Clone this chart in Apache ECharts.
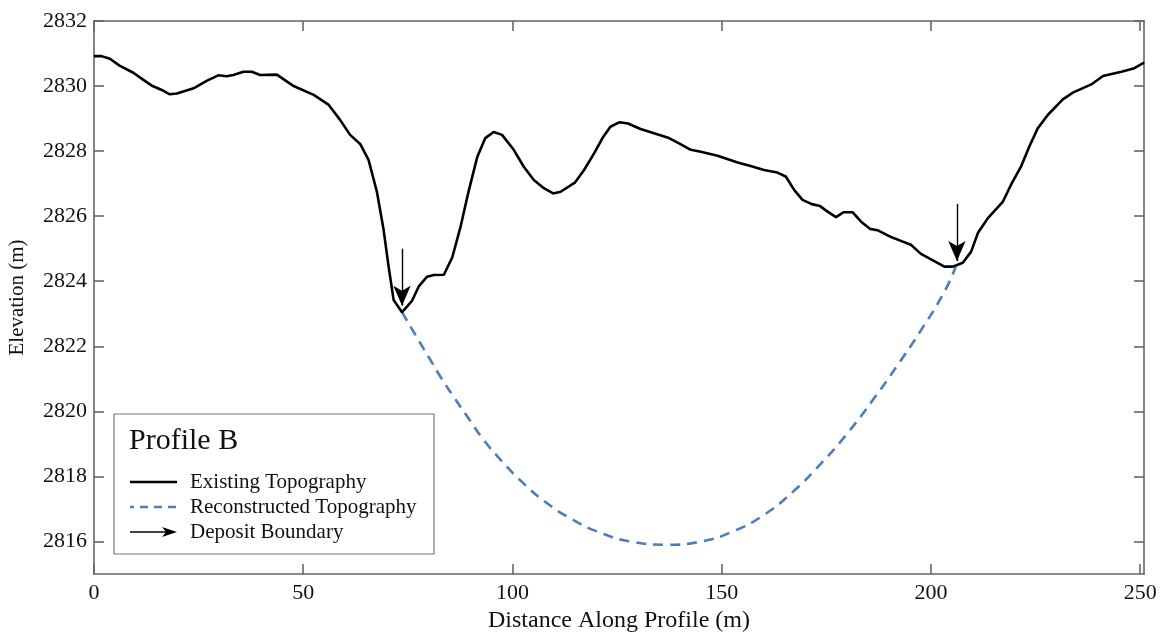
<!DOCTYPE html>
<html>
<head>
<meta charset="utf-8">
<script src="https://cdn.jsdelivr.net/npm/echarts@6/dist/echarts.min.js"></script>
<style>html,body{margin:0;padding:0;background:#fff}#c{width:1162px;height:635px}</style>
</head>
<body>
<div id="c"></div>
<script>
// ---- data ----
const topoX = [0,1.8,3.8,6.1,9.4,11.8,14.0,16.2,18.0,19.8,23.8,26.9,29.7,31.7,33.3,35.7,37.7,39.7,43.7,47.7,52.5,56.1,58.8,61.2,63.6,65.6,67.6,69.2,70.4,71.6,73.6,74.8,76.0,77.6,79.6,81.2,83.6,85.6,87.6,89.6,91.6,93.5,95.5,97.5,100.3,102.7,105.1,107.5,109.7,111.5,114.9,117.1,119.5,121.5,123.4,125.6,127.6,130.6,133.8,137.4,139.8,142.6,145.0,149.0,153.8,156.9,160.1,163.3,165.3,167.3,169.3,171.5,173.5,175.3,177.3,179.1,181.3,183.3,185.4,187.2,190.6,192.8,195.2,197.6,200.8,203.2,205.2,207.6,209.6,211.2,213.6,217.2,219.1,221.5,223.5,225.5,227.9,231.5,233.9,238.3,241.1,245.5,248.6,250.9];
const topoY = [2830.92,2830.92,2830.84,2830.63,2830.41,2830.19,2830.00,2829.88,2829.75,2829.77,2829.93,2830.16,2830.33,2830.30,2830.34,2830.44,2830.44,2830.34,2830.35,2830.00,2829.73,2829.42,2828.96,2828.50,2828.22,2827.73,2826.75,2825.58,2824.45,2823.42,2823.05,2823.22,2823.40,2823.84,2824.14,2824.19,2824.20,2824.73,2825.68,2826.81,2827.83,2828.40,2828.59,2828.50,2828.04,2827.52,2827.11,2826.86,2826.70,2826.75,2827.03,2827.42,2827.93,2828.40,2828.75,2828.89,2828.85,2828.68,2828.55,2828.40,2828.24,2828.04,2827.98,2827.86,2827.65,2827.54,2827.42,2827.34,2827.22,2826.81,2826.50,2826.37,2826.31,2826.14,2825.97,2826.12,2826.12,2825.83,2825.61,2825.57,2825.35,2825.24,2825.12,2824.84,2824.62,2824.45,2824.45,2824.57,2824.91,2825.48,2825.94,2826.45,2826.96,2827.52,2828.14,2828.70,2829.11,2829.59,2829.80,2830.05,2830.31,2830.44,2830.55,2830.72];
const reconX = [73.6,77.5,80.3,82.9,86.1,89.4,93.0,97.6,102.2,107.7,114.1,121.4,128.7,136.9,145.2,152.5,159.9,167.2,173.6,180.0,186.4,191.9,197.4,203.3,206.0];
const reconY = [2823.05,2822.20,2821.60,2821.04,2820.42,2819.80,2819.14,2818.45,2817.84,2817.23,2816.69,2816.25,2815.99,2815.90,2816.00,2816.30,2816.80,2817.55,2818.38,2819.32,2820.40,2821.40,2822.45,2823.70,2824.48];
const arrowX = [73.6, 206.2];
const arrowTopY = [2825.0, 2826.38];
const arrowTipY = [2823.25, 2824.62];
const xTicks = [0,50,100,150,200,250];
const yTicks = [2816,2818,2820,2822,2824,2826,2828,2830,2832];
const xRange = [0, 250.9];
const yRange = [2815, 2832];
const legendTitle = 'Profile B';
const legendNames = ['Existing Topography','Reconstructed Topography','Deposit Boundary'];
const xName = 'Distance Along Profile (m)';
const yName = 'Elevation (m)';

// ---- chart ----
const FONT = 'Liberation Serif';
const AX = '#666666';
const BLUE = '#4f7db6';
const zip = (a,b)=>a.map((v,i)=>[v,b[i]]);

const chart = echarts.init(document.getElementById('c'), null, {renderer:'canvas'});

const axisCommon = {
  type:'value',
  axisLine:{show:true, onZero:false, lineStyle:{color:AX, width:1.6}},
  splitLine:{show:false},
};
const plain = v => String(v);

const gL=94, gR=1144, gT=21, gB=574;
const lg = {x:114, y:414, w:320, h:140};

chart.setOption({
  animation:false,
  backgroundColor:'#fff',
  grid:{left:gL, right:1162-gR, top:gT, bottom:635-gB, containLabel:false, outerBoundsMode:'none'},
  xAxis:[
    Object.assign({}, axisCommon, {
      position:'bottom', min:xRange[0], max:xRange[1],
      axisTick:{show:true, inside:true, length:10, customValues:xTicks, lineStyle:{color:AX, width:1.6}},
      axisLabel:{show:true, customValues:xTicks, formatter:plain, color:'#111', fontFamily:FONT, fontSize:22, margin:8},
      name:xName, nameLocation:'middle', nameGap:35,
      nameTextStyle:{color:'#111', fontFamily:FONT, fontSize:24}
    }),
    Object.assign({}, axisCommon, {
      position:'top', min:xRange[0], max:xRange[1],
      axisTick:{show:true, inside:true, length:10, customValues:xTicks, lineStyle:{color:AX, width:1.6}},
      axisLabel:{show:false}
    })
  ],
  yAxis:[
    Object.assign({}, axisCommon, {
      position:'left', min:yRange[0], max:yRange[1],
      axisTick:{show:true, inside:true, length:10, customValues:yTicks, lineStyle:{color:AX, width:1.6}},
      axisLabel:{show:true, customValues:yTicks, formatter:plain, color:'#111', fontFamily:FONT, fontSize:22, margin:7},
      name:yName, nameLocation:'middle', nameGap:66, nameRotate:90,
      nameTextStyle:{color:'#111', fontFamily:FONT, fontSize:21}
    }),
    Object.assign({}, axisCommon, {
      position:'right', min:yRange[0], max:yRange[1],
      axisTick:{show:true, inside:true, length:10, customValues:yTicks, lineStyle:{color:AX, width:1.6}},
      axisLabel:{show:false}
    })
  ],
  series:[
    {
      name:legendNames[1], type:'line', data:zip(reconX, reconY), smooth:0.5,
      showSymbol:false, symbol:'none',
      lineStyle:{color:BLUE, width:2.6, type:[10,7]},
      z:2, silent:true
    },
    {
      name:legendNames[0], type:'line', data:zip(topoX, topoY), smooth:false,
      showSymbol:false, symbol:'none',
      lineStyle:{color:'#000', width:2.6},
      z:3, silent:true,
      markLine:{
        silent:true, animation:false,
        symbol:['none','arrow'], symbolSize:[13,20],
        label:{show:false},
        lineStyle:{color:'#000', width:1.4, type:'solid'},
        data: arrowX.map((x,i)=>[{coord:[x, arrowTopY[i]]},{coord:[x, arrowTipY[i]]}])
      }
    }
  ],
  graphic:[
    {type:'rect', shape:{x:lg.x, y:lg.y, width:lg.w, height:lg.h}, style:{fill:'#fff', stroke:'#777', lineWidth:1.2}, z:10},
    {type:'text', x:129, y:441, style:{text:legendTitle, fontFamily:FONT, fontSize:30, fill:'#111', textVerticalAlign:'middle'}, z:11},
    {type:'line', shape:{x1:130,y1:482,x2:177,y2:482}, style:{stroke:'#000', lineWidth:2.6}, z:11},
    {type:'text', x:190, y:482, style:{text:legendNames[0], fontFamily:FONT, fontSize:21, fill:'#111', textVerticalAlign:'middle'}, z:11},
    {type:'line', shape:{x1:130,y1:507,x2:177,y2:507}, style:{stroke:BLUE, lineWidth:2.6, lineDash:[8,6], lineDashOffset:4}, z:11},
    {type:'text', x:190, y:507, style:{text:legendNames[1], fontFamily:FONT, fontSize:21, fill:'#111', textVerticalAlign:'middle'}, z:11},
    {type:'line', shape:{x1:130,y1:532,x2:168,y2:532}, style:{stroke:'#000', lineWidth:1.3}, z:11},
    {type:'polygon', shape:{points:[[177,532],[162,527],[166,532],[162,537]]}, style:{fill:'#000'}, z:11},
    {type:'text', x:190, y:532, style:{text:legendNames[2], fontFamily:FONT, fontSize:21, fill:'#111', textVerticalAlign:'middle'}, z:11}
  ]
});
</script>
</body>
</html>
